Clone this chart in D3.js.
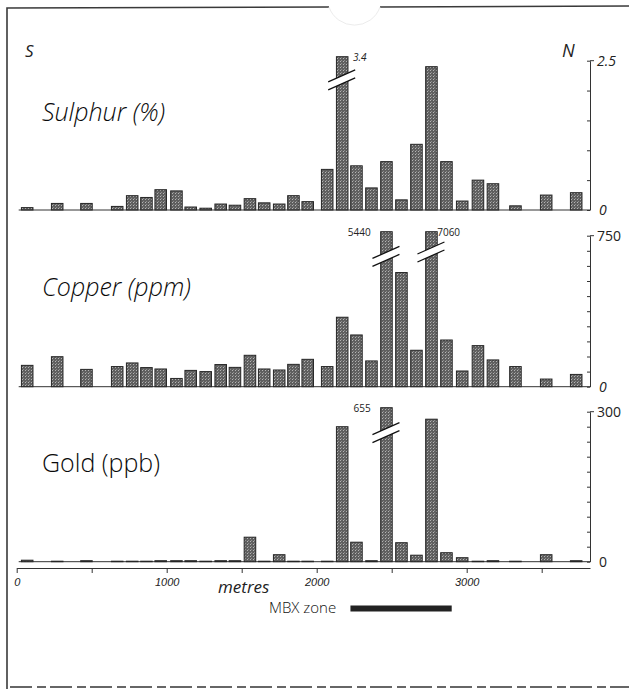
<html>
  <head>
    <script src="https://d3js.org/d3.v7.min.js"></script>
    <style>
      body { margin: 0; background: #fff; }
      svg { font-family: "Open Sans", "Liberation Sans", sans-serif; }
      .frame { stroke: #3a3a3a; fill: none; }
      .axis path, .axis line { stroke: #333; }
      .bar { stroke: #262626; stroke-width: 1; }
      .panel-title { font-size: 25px; font-weight: 300; fill: #0a0a0a; }
      .tick-label { font-size: 12px; fill: #222; }
      .break-label { font-size: 10px; fill: #222; }
    </style>
  </head>
  <body>
    <div id="root"></div>
  </body>
  <script>
// sample stations along the traverse (metres)
var stations = [70, 270, 465, 670, 770, 865, 960, 1065, 1160, 1260, 1360, 1455, 1555, 1650, 1750, 1845,
                1940, 2070, 2170, 2265, 2365, 2465, 2565, 2665, 2765, 2865, 2970, 3075, 3175, 3325, 3530, 3730];

var sulphur = [0.04, 0.11, 0.11, 0.06, 0.24, 0.21, 0.34, 0.32, 0.05, 0.03, 0.10, 0.08, 0.19, 0.12, 0.10, 0.24,
               0.14, 0.68, 3.4, 0.74, 0.37, 0.81, 0.17, 1.10, 2.40, 0.81, 0.15, 0.50, 0.44, 0.07, 0.25, 0.29];
var copper = [106, 149, 86, 100, 118, 95, 88, 41, 81, 75, 110, 96, 156, 88, 83, 111,
              136, 100, 345, 257, 128, 5440, 567, 181, 7060, 232, 78, 204, 133, 100, 38, 61];
var gold = [3, 1, 2, 1, 1, 1, 2, 2, 2, 1, 2, 2, 49, 1, 14, 1,
            1, 1, 270, 39, 2, 655, 38, 13, 285, 18, 8, 1, 2, 1, 14, 2];

var panelNames = ["Sulphur (%)", "Copper (ppm)", "Gold (ppb)"];
var panelMax = [2.5, 750, 300];
var panelStep = [0.5, 75, 30];
var panelMaxLabel = ["2.5", "750", "300"];

// broken (off-scale) bars: panel, station index, where the break sits, label
var breaks = [
  {panel: 0, i: 18, at: 2.18, label: "3.4", side: "right"},
  {panel: 1, i: 21, at: 647, label: "5440", side: "left"},
  {panel: 1, i: 24, at: 669, label: "7060", side: "right"},
  {panel: 2, i: 21, at: 258, label: "655", side: "left"}
];

var xTicks = [0, 500, 1000, 1500, 2000, 2500, 3000, 3500];
var xTickLabels = ["0", "", "1000", "", "2000", "", "3000", ""];
var mbxZone = [2225, 2900];

var width = 629;
var height = 689;

var panels = [
  {values: sulphur, top: 60.7, base: 210},
  {values: copper, top: 235.7, base: 386.7},
  {values: gold, top: 411.7, base: 561.7}
];

var svg = d3.select("#root").append("svg")
  .attr("width", width)
  .attr("height", height);

/* stipple fill */
var defs = svg.append("defs");
var pat = defs.append("pattern")
  .attr("id", "stipple")
  .attr("width", 3).attr("height", 3)
  .attr("patternUnits", "userSpaceOnUse");
pat.append("rect").attr("width", 3).attr("height", 3).attr("fill", "#5f5f5f");
pat.append("rect").attr("x", 1).attr("y", 1).attr("width", 1).attr("height", 1).attr("fill", "#b4b4b4");
pat.append("rect").attr("x", 2).attr("y", 0).attr("width", 1).attr("height", 1).attr("fill", "#8c8c8c");

/* page frame from the scan */
svg.append("path").attr("class", "frame").attr("stroke-width", 1.6)
  .attr("d", "M7,689 L7,8 L329,7");
svg.append("path").attr("class", "frame").attr("stroke-width", 1.6)
  .attr("d", "M380,7 L629,6");
svg.append("path").attr("fill", "none").attr("stroke", "#ececec")
  .attr("d", "M329,7 A27,27 0 0 0 380,7");
svg.append("line").attr("x1", 10).attr("x2", 629).attr("y1", 687).attr("y2", 687)
  .attr("stroke", "#666").attr("stroke-width", 2).attr("stroke-dasharray", "22,5,9,4");

var x = d3.scaleLinear().domain([0, 3822]).range([16.7, 590]);
var bw = x(77) - x(0);

panels.forEach(function(p, pi) {
  var max = panelMax[pi];
  var y = d3.scaleLinear().domain([0, max]).range([p.base, p.top]);
  var cap = y.invert(p.top - 4);
  var g = svg.append("g");

  // baseline
  g.append("line")
    .attr("x1", x(0) + 2).attr("x2", x(3822))
    .attr("y1", y(0)).attr("y2", y(0))
    .attr("stroke", "#333");

  // right-hand scale
  g.append("g")
    .attr("class", "axis")
    .attr("transform", "translate(" + x(3822) + ",0)")
    .call(d3.axisLeft(y)
      .tickValues(d3.range(0, max + panelStep[pi] / 2, panelStep[pi]))
      .tickSize(3).tickSizeOuter(0).tickFormat(""));
  g.append("line")
    .attr("x1", x(3822)).attr("x2", x(3822) + 4)
    .attr("y1", y(max)).attr("y2", y(max))
    .attr("stroke", "#333");
  g.append("text").attr("class", "tick-label")
    .attr("x", x(3822) + 7).attr("y", y(max) + 5)
    .style("font-size", "14px")
    .style("font-style", pi == 0 ? "italic" : "normal")
    .text(panelMaxLabel[pi]);
  g.append("text").attr("class", "tick-label")
    .attr("x", x(3822) + 9).attr("y", y(0) + 5)
    .style("font-size", "14px")
    .style("font-style", pi == 2 ? "normal" : "italic")
    .text("0");

  // bars
  g.selectAll(".bar")
    .data(p.values).enter()
    .append("rect")
    .attr("class", "bar")
    .attr("fill", "url(#stipple)")
    .attr("x", (d, i) => x(stations[i]) - bw / 2)
    .attr("width", bw)
    .attr("y", d => y(Math.min(d, cap)))
    .attr("height", d => y(0) - y(Math.min(d, cap)));

  // title
  g.append("text")
    .attr("class", "panel-title")
    .attr("x", 42)
    .attr("y", p.top + 60)
    .style("font-style", pi == 2 ? "normal" : "italic")
    .text(panelNames[pi]);

  // breaks
  breaks.filter(b => b.panel == pi).forEach(function(b) {
    var cx = x(stations[b.i]);
    var yb = y(b.at);
    g.append("path")
      .attr("fill", "#fff")
      .attr("d", `M${cx - 14},${yb + 2} L${cx + 13},${yb - 10} L${cx + 13},${yb - 2} L${cx - 14},${yb + 10} Z`);
    g.append("line").attr("stroke", "#111").attr("stroke-width", 1.3)
      .attr("x1", cx - 14).attr("y1", yb + 2).attr("x2", cx + 13).attr("y2", yb - 10);
    g.append("line").attr("stroke", "#111").attr("stroke-width", 1.3)
      .attr("x1", cx - 14).attr("y1", yb + 10).attr("x2", cx + 13).attr("y2", yb - 2);
    var ly = y(cap) + 4;
    g.append("text")
      .attr("class", "break-label")
      .attr("x", b.side == "right" ? cx + bw / 2 + (pi == 0 ? 5 : 0) : cx - bw / 2 - 10)
      .attr("y", ly)
      .attr("text-anchor", b.side == "right" ? "start" : "end")
      .style("font-style", pi == 0 ? "italic" : "normal")
      .text(b.label);
  });
});

/* S and N */
svg.append("text").attr("x", 25).attr("y", 57)
  .style("font-size", "17px").style("font-style", "italic").attr("fill", "#222").text("S");
svg.append("text").attr("x", 562).attr("y", 57)
  .style("font-size", "18px").style("font-style", "italic").attr("fill", "#222").text("N");

/* distance axis */
svg.append("g")
  .attr("class", "axis")
  .attr("transform", "translate(0,568)")
  .call(d3.axisBottom(x).tickValues(xTicks).tickSize(5).tickSizeOuter(0)
    .tickFormat((d, i) => xTickLabels[i]))
  .call(g => g.selectAll("text")
    .attr("dy", "0.9em")
    .style("font-size", "11px")
    .style("font-style", "italic")
    .attr("fill", "#222"));

svg.append("text").attr("x", 218).attr("y", 593)
  .style("font-size", "17px").style("font-style", "italic").attr("fill", "#222")
  .text("metres");

svg.append("text").attr("x", 269).attr("y", 613)
  .style("font-size", "15px").style("font-weight", 300).attr("fill", "#111")
  .text("MBX zone");
svg.append("rect")
  .attr("x", x(mbxZone[0])).attr("y", 605.5)
  .attr("width", x(mbxZone[1]) - x(mbxZone[0])).attr("height", 6)
  .attr("fill", "#222");
  </script>
</html>
